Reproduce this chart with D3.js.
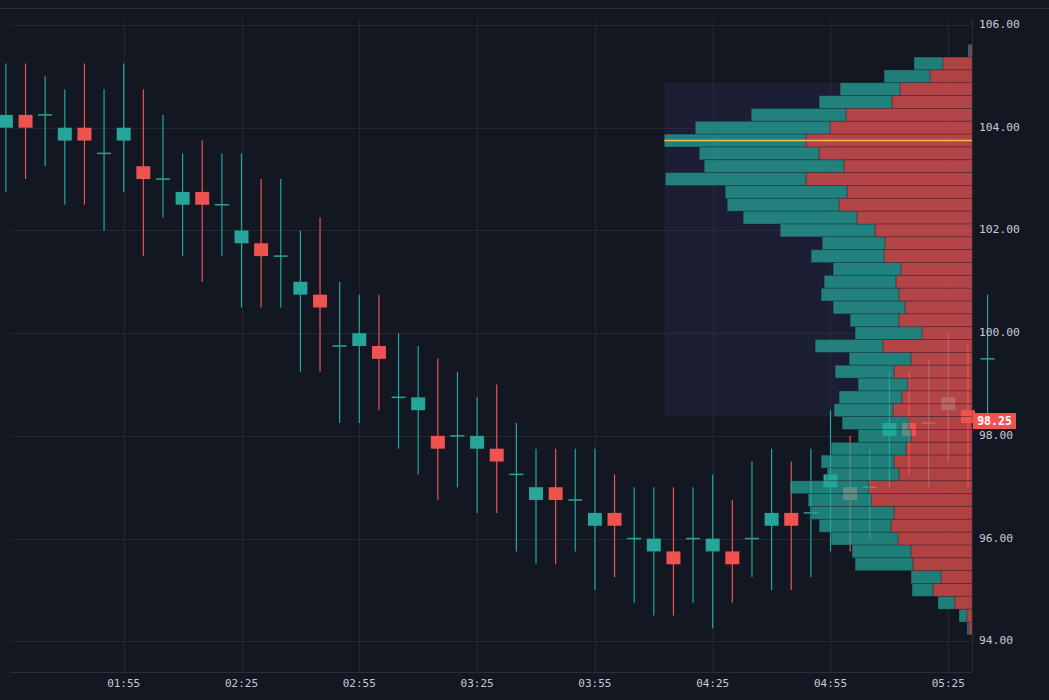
<!DOCTYPE html>
<html>
<head>
<meta charset="utf-8">
<script src="https://d3js.org/d3.v7.min.js"></script>
<style>
  html, body { margin: 0; padding: 0; background: #131722; overflow: hidden; }
  svg { display: block; }
</style>
</head>
<body>
<svg id="chart" width="1049" height="700"></svg>
<script>
// 5 minute candles, first one at 01:25
const startTime = "01:25";
const opens  = [104.0, 104.25, 104.25, 103.75, 104.0, 103.5, 103.75, 103.25, 103.0, 102.5,
                102.75, 102.5, 101.75, 101.75, 101.5, 100.75, 100.75, 99.75, 99.75, 99.75,
                98.75, 98.5, 98.0, 98.0, 97.75, 97.75, 97.25, 96.75, 97.0, 96.75,
                96.25, 96.5, 96.0, 95.75, 95.75, 96.0, 95.75, 95.75, 96.0, 96.25,
                96.5, 96.5, 97.0, 97.0, 97.0, 98.0, 98.25, 98.25, 98.5, 98.5, 99.5];
const highs  = [105.25, 105.25, 105.0, 104.75, 105.25, 104.75, 105.25, 104.75, 104.25, 103.5,
                103.75, 103.5, 103.5, 103.0, 103.0, 102.0, 102.25, 101.0, 100.75, 100.75,
                100.0, 99.75, 99.5, 99.25, 98.75, 99.0, 98.25, 97.75, 97.75, 97.75,
                97.75, 97.25, 97.0, 97.0, 97.0, 97.0, 97.25, 96.75, 97.5, 97.75,
                97.5, 97.75, 98.5, 98.0, 97.75, 99.25, 99.25, 99.5, 100.0, 99.75, 100.75];
const lows   = [102.75, 103.0, 103.25, 102.5, 102.5, 102.0, 102.75, 101.5, 102.25, 101.5,
                101.0, 101.5, 100.5, 100.5, 100.5, 99.25, 99.25, 98.25, 98.25, 98.5,
                97.75, 97.25, 96.75, 97.0, 96.5, 96.5, 95.75, 95.5, 95.5, 95.75,
                95.0, 95.25, 94.75, 94.5, 94.5, 94.75, 94.25, 94.75, 95.25, 95.0,
                95.0, 95.25, 95.75, 95.75, 96.0, 97.0, 97.25, 97.0, 97.5, 97.0, 98.25];
const closes = [104.25, 104.0, 104.25, 104.0, 103.75, 103.5, 104.0, 103.0, 103.0, 102.75,
                102.5, 102.5, 102.0, 101.5, 101.5, 101.0, 100.5, 99.75, 100.0, 99.5,
                98.75, 98.75, 97.75, 98.0, 98.0, 97.5, 97.25, 97.0, 96.75, 96.75,
                96.5, 96.25, 96.0, 96.0, 95.5, 96.0, 96.0, 95.5, 96.0, 96.5,
                96.25, 96.5, 97.25, 96.75, 97.0, 98.25, 98.0, 98.25, 98.75, 98.25, 99.5];

const timeTicks = ["01:55", "02:25", "02:55", "03:25", "03:55", "04:25", "04:55", "05:25"];
const priceTicks = [94, 96, 98, 100, 102, 104, 106];

// volume profile rows, 0.25 apart, from 105.50 down to 94.25
const profileTop = 105.5;
const profileStep = 0.25;
const buyVol  = [2, 29, 46, 60, 73, 95, 135, 142, 120, 140,
                 141, 122, 112, 114, 95, 63, 73, 68, 72, 78,
                 72, 49, 67, 68, 62, 59, 50, 63, 59, 67,
                 53, 75, 73, 72, 79, 63, 83, 72, 67, 59,
                 58, 30, 21, 17, 8, 2];
const sellVol = [2, 29, 42, 72, 80, 126, 142, 166, 153, 128,
                 166, 125, 133, 115, 97, 87, 88, 71, 76, 73,
                 67, 73, 50, 89, 61, 78, 64, 70, 79, 63,
                 61, 66, 78, 73, 103, 101, 78, 81, 74, 61,
                 59, 31, 39, 17, 5, 3];
const valueAreaHigh = 104.75;
const valueAreaLow = 98.5;
const lastPrice = 98.25;

const upColor = "#26a69a", downColor = "#ef5350";
const plotLeft = 10, plotRight = 972, plotTop = 19, plotBottom = 672;

const parseTime = d3.timeParse("%H:%M");
const t0 = parseTime(startTime);

const candles = opens.map((o, i) => ({
    time: d3.timeMinute.offset(t0, i * 5),
    open: o, high: highs[i], low: lows[i], close: closes[i]
}));

const rows = buyVol.map((b, i) => ({
    price: profileTop - i * profileStep,
    buy: b, sell: sellVol[i], total: b + sellVol[i]
}));

const x = d3.scaleTime()
    .domain([parseTime("01:25"), parseTime("05:25")])
    .range([5.9, 948.3]);
const y = d3.scaleLinear().domain([94, 106]).range([641.3, 25]);

const maxTotal = d3.max(rows, d => d.total);
const w = d3.scaleLinear().domain([0, maxTotal]).range([0, 307.7]);
const poc = rows.find(d => d.total === maxTotal);

const svg = d3.select("#chart");

svg.append("rect").attr("width", 1049).attr("height", 700).attr("fill", "#131722");
svg.append("line").attr("x1", 0).attr("x2", 1049).attr("y1", 8.5).attr("y2", 8.5)
    .attr("stroke", "#2a2e39");

// grid
svg.append("g").selectAll("line").data(priceTicks).enter().append("line")
    .attr("x1", plotLeft).attr("x2", plotRight)
    .attr("y1", d => Math.round(y(d)) + 0.5).attr("y2", d => Math.round(y(d)) + 0.5)
    .attr("stroke", "#232733");
svg.append("g").selectAll("line").data(timeTicks).enter().append("line")
    .attr("x1", d => Math.round(x(parseTime(d))) + 0.5)
    .attr("x2", d => Math.round(x(parseTime(d))) + 0.5)
    .attr("y1", plotTop).attr("y2", plotBottom)
    .attr("stroke", "#232733");

// axis borders
svg.append("line").attr("x1", plotRight + 0.5).attr("x2", plotRight + 0.5)
    .attr("y1", plotTop).attr("y2", plotBottom)
    .attr("stroke", "#2a2e39");
svg.append("line").attr("x1", plotLeft).attr("x2", plotRight)
    .attr("y1", plotBottom + 0.5).attr("y2", plotBottom + 0.5)
    .attr("stroke", "#2a2e39");

// value area box
const half = profileStep / 2;
svg.append("rect")
    .attr("x", plotRight - w(maxTotal)).attr("width", w(maxTotal))
    .attr("y", y(valueAreaHigh + half))
    .attr("height", y(valueAreaLow - half) - y(valueAreaHigh + half))
    .attr("fill", "#3f3a78").attr("fill-opacity", 0.22);

// candles
const bodyW = 14;
const cg = svg.append("g");
cg.selectAll("line.wick").data(candles).enter().append("line")
    .attr("class", "wick")
    .attr("x1", d => x(d.time)).attr("x2", d => x(d.time))
    .attr("y1", d => y(d.high)).attr("y2", d => y(d.low))
    .attr("stroke", d => d.close >= d.open ? upColor : downColor)
    .attr("stroke-width", 1.2);
cg.selectAll("rect.body").data(candles).enter().append("rect")
    .attr("class", "body")
    .attr("x", d => x(d.time) - bodyW / 2)
    .attr("width", bodyW)
    .attr("y", d => d.open === d.close ? y(d.open) - 0.75 : y(Math.max(d.open, d.close)))
    .attr("height", d => d.open === d.close ? 1.5 : Math.abs(y(d.open) - y(d.close)))
    .attr("fill", d => d.close >= d.open ? upColor : downColor);

// volume profile
const pg = svg.append("g");
const rowH = y(0) - y(profileStep);
pg.selectAll("rect.buy").data(rows).enter().append("rect")
    .attr("class", "buy")
    .attr("x", d => plotRight - w(d.total))
    .attr("width", d => w(d.buy))
    .attr("y", d => y(d.price + half))
    .attr("height", rowH)
    .attr("fill", upColor).attr("fill-opacity", 0.72)
    .attr("stroke", "#131722").attr("stroke-opacity", 0.35).attr("stroke-width", 0.8);
pg.selectAll("rect.sell").data(rows).enter().append("rect")
    .attr("class", "sell")
    .attr("x", d => plotRight - w(d.sell))
    .attr("width", d => w(d.sell))
    .attr("y", d => y(d.price + half))
    .attr("height", rowH)
    .attr("fill", downColor).attr("fill-opacity", 0.72)
    .attr("stroke", "#131722").attr("stroke-opacity", 0.35).attr("stroke-width", 0.8);

// point of control
svg.append("line")
    .attr("x1", plotRight - w(maxTotal)).attr("x2", plotRight)
    .attr("y1", y(poc.price)).attr("y2", y(poc.price))
    .attr("stroke", "#f0c050").attr("stroke-width", 1.6);

// axis labels
const font = "'DejaVu Sans Mono', monospace";
svg.append("g").selectAll("text").data(priceTicks).enter().append("text")
    .attr("x", plotRight + 7).attr("y", d => y(d) + 3)
    .attr("font-family", font).attr("font-size", 11.3).attr("fill", "#c6cad2")
    .text(d => d.toFixed(2));
svg.append("g").selectAll("text").data(timeTicks).enter().append("text")
    .attr("x", d => x(parseTime(d))).attr("y", 687)
    .attr("text-anchor", "middle")
    .attr("font-family", font).attr("font-size", 11).attr("fill", "#c6cad2")
    .text(d => d);

// last price label
const lp = svg.append("g");
lp.append("rect")
    .attr("x", plotRight + 1).attr("width", 43)
    .attr("y", y(lastPrice) - 10).attr("height", 16)
    .attr("fill", downColor);
lp.append("text")
    .attr("x", plotRight + 22.5).attr("y", y(lastPrice) + 2)
    .attr("text-anchor", "middle")
    .attr("font-family", font).attr("font-size", 11.5).attr("font-weight", "bold")
    .attr("fill", "#ffffff")
    .text(lastPrice.toFixed(2));
</script>
</body>
</html>
